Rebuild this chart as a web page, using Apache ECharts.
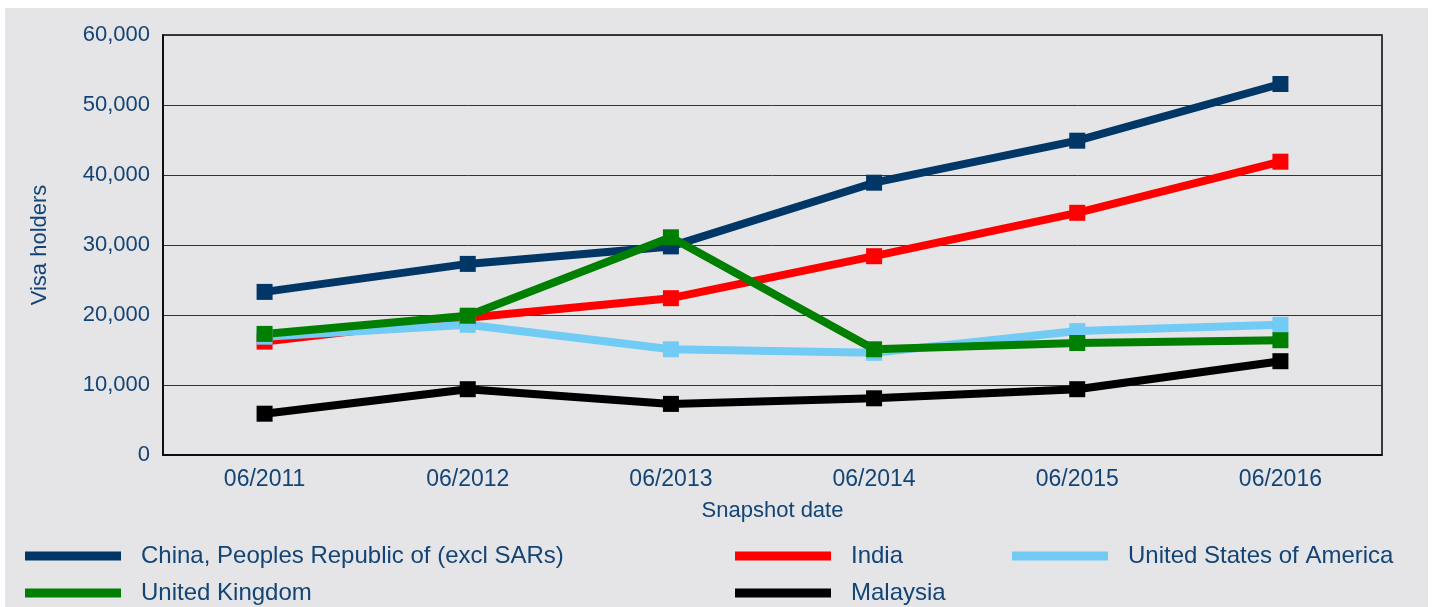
<!DOCTYPE html>
<html>
<head>
<meta charset="utf-8">
<script src="https://cdn.jsdelivr.net/npm/echarts@6/dist/echarts.min.js"></script>
<style>
    html, body { margin: 0; padding: 0; background: #fff; }
    #main { position: absolute; left: 5px; top: 8px; width: 1423px; height: 599px; background: #e5e5e7; }
</style>
</head>
<body>
<div id="main"></div>
<script>
    // snapshot dates and visa holder counts
    var dates = ['06/2011', '06/2012', '06/2013', '06/2014', '06/2015', '06/2016'];
    var china = [23300, 27300, 29800, 38900, 44900, 53000];
    var india = [16200, 19600, 22400, 28400, 34600, 41900];
    var usa = [16900, 18600, 15100, 14600, 17700, 18600];
    var uk = [17300, 19900, 31100, 15100, 16000, 16400];
    var malaysia = [5900, 9400, 7300, 8100, 9400, 13400];

    var textColor = '#134476';
    var font = 'Liberation Sans, Arial, sans-serif';

    function line(name, data, color) {
        return {
            name: name,
            type: 'line',
            data: data,
            symbol: 'rect',
            symbolSize: 16,
            showAllSymbol: true,
            lineStyle: {width: 8, color: color},
            itemStyle: {color: color},
            emphasis: {disabled: true}
        };
    }

    // one legend per entry so they can sit in the 3 column / 2 row layout
    function legendItem(name, left, top) {
        return {
            left: left, top: top,
            itemWidth: 96, itemHeight: 9, icon: 'rect',
            textStyle: {color: textColor, fontSize: 24, fontFamily: font, lineHeight: 28, padding: [0, 0, 0, 15]},
            data: [name]
        };
    }

    var myChart = echarts.init(document.getElementById('main'));
    var option = {
        animation: false,
        grid: {left: 158, right: 46, top: 27, bottom: 152, show: true, borderColor: '#000', borderWidth: 1.5},
        legend: [
            legendItem('China, Peoples Republic of (excl SARs)', 15, 529),
            legendItem('United Kingdom', 15, 566),
            legendItem('India', 725, 529),
            legendItem('Malaysia', 725, 566),
            legendItem('United States of America', 1002, 529)
        ],
        xAxis: {
            type: 'category',
            data: dates,
            name: 'Snapshot date',
            nameLocation: 'middle',
            nameGap: 45,
            nameTextStyle: {color: textColor, fontSize: 22, fontFamily: font},
            axisLine: {lineStyle: {color: '#000', width: 1.5}},
            axisTick: {show: false},
            axisLabel: {color: textColor, fontSize: 23, fontFamily: font, margin: 13}
        },
        yAxis: {
            type: 'value',
            min: 0,
            max: 60000,
            interval: 10000,
            name: 'Visa holders',
            nameLocation: 'middle',
            nameGap: 112,
            nameTextStyle: {color: textColor, fontSize: 22, fontFamily: font},
            axisLine: {show: true, lineStyle: {color: '#000', width: 1.5}},
            axisTick: {show: false},
            splitLine: {lineStyle: {color: '#333', width: 1}},
            axisLabel: {
                color: textColor, fontSize: 22, fontFamily: font, margin: 13,
                formatter: function (v) { return v.toLocaleString('en-US'); }
            }
        },
        series: [
            line('China, Peoples Republic of (excl SARs)', china, '#003767'),
            line('India', india, '#ff0000'),
            line('United States of America', usa, '#71cbf4'),
            line('United Kingdom', uk, '#007f00'),
            line('Malaysia', malaysia, '#000000')
        ]
    };
    myChart.setOption(option);
</script>
</body>
</html>
